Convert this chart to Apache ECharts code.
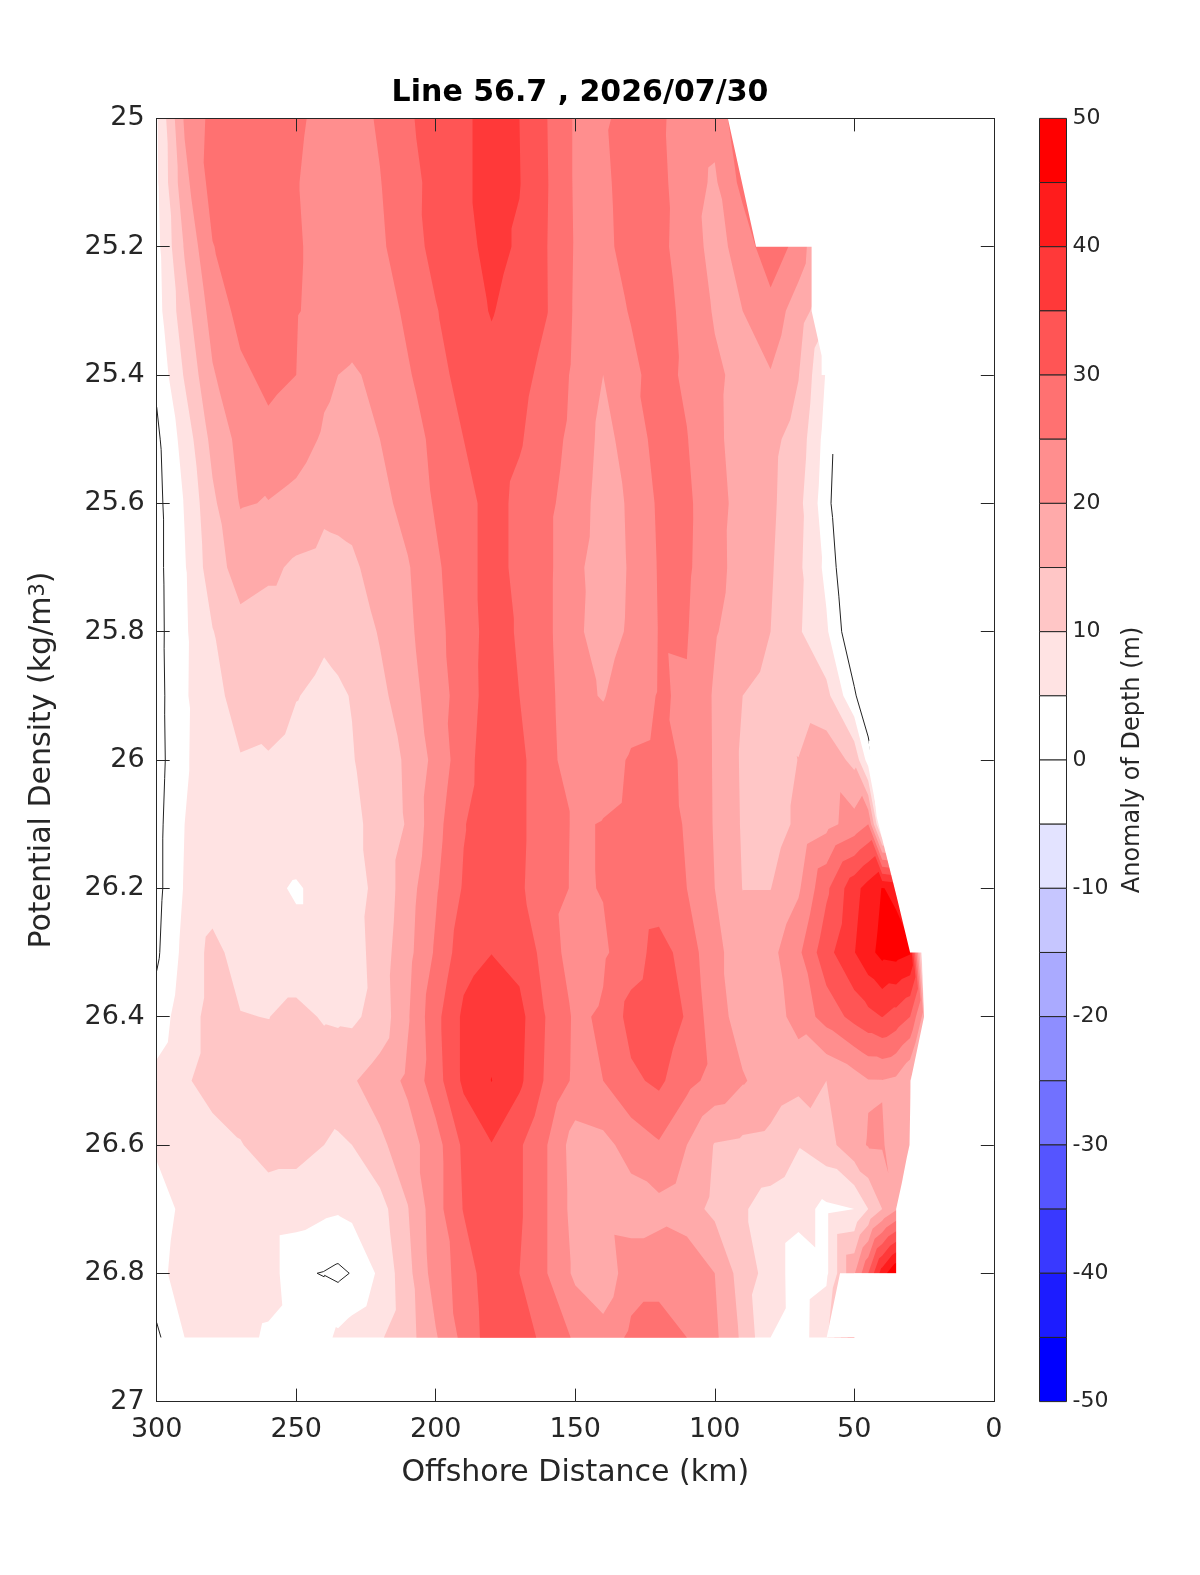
<!DOCTYPE html>
<html><head><meta charset="utf-8"><title>Line 56.7</title>
<style>html,body{margin:0;padding:0;background:#fff}#c{width:1200px;height:1575px}</style>
<script src="https://cdn.jsdelivr.net/npm/echarts@6/dist/echarts.min.js"></script>
</head><body><div id="c"></div>
<script>
// Offshore distance of each column (km)
const distances = [300,290,280,270,260,250,240,235,230,220,210,200,190,180,170,160,150,140,130,120,110,100,90,80,70,60,50,45,40,35,30,25,20];
// Potential density of each row (kg/m3)
const densities = [25.0,25.1,25.2,25.3,25.4,25.5,25.6,25.7,25.8,25.9,26.0,26.1,26.2,26.3,26.4,26.5,26.6,26.7,26.8,26.9];
const _ = null;
// Anomaly of depth (m), one row per density, one value per distance
const anomaly = [
[4.5,20.7,26.5,28,28,25.6,24,23.5,23,25.6,29.4,31.9,34.3,36.5,35,30,24.4,24.6,26,26,22.3,21.5,29,30,_,_,_,_,_,_,_,_,_],
[4.2,18.5,27,28.5,28.5,25.2,23.5,23.2,23,24.8,28.5,31.4,34.3,36.5,35.2,30.2,24.4,24.2,26.8,26.5,22,19.3,26.5,30,28,_,_,_,_,_,_,_,_],
[3.5,15.5,24.8,27.5,28,25.5,23.5,23,22.5,24.2,27.7,31.5,33.5,36.5,34.4,30,24.6,24,26.5,26.3,22.7,18.2,22,28.5,23,13,5,_,_,_,_,_,_],
[3,13,22,26.5,28,25.3,23.5,22.7,22,22.5,26,29.7,32.8,35.3,33,30.1,24.4,23,25.3,27,23.7,19.5,20,23,17.5,11.5,5,_,_,_,_,_,_],
[1,10.5,19.5,24,26.2,25,21,20,19.5,21,24.5,28,32,33.5,31.5,28.5,24,20,24,26.7,24.2,20.9,18.5,19.7,15.2,4.5,_,_,_,_,_,_,_],
[-1,7,16.5,21.5,23.7,22.3,19.3,18.6,18,20,23,26.1,30,32.5,30.5,27,23.5,18.5,22,27,25.2,21,18,16.3,13,3,_,_,_,_,_,_,_],
[-1.5,5.3,14,20.3,19.8,18.5,16,16.2,16.5,18.5,21.7,25.5,28,32,28.7,26,22.7,17.8,20.7,25.8,26,21.5,18.5,16,11.5,2,-10,_,_,_,_,_,_],
[-1.5,4.6,12.8,17,16,14.2,13.5,13.8,14.2,17,19.6,24.2,28,32,28.7,26,21.2,17.5,20.5,25.4,25.8,21.6,18,15.5,11,3.8,-7,_,_,_,_,_,_],
[-1.6,4.3,9.8,13.5,12.5,12.5,10.8,11.3,12,15.4,18.9,23.6,27.5,32,29.5,26,20.9,18,20.7,25.2,25.3,20.4,17.5,15,10.6,5.7,-4.7,-7,_,_,_,_,_],
[-1.8,4.4,8.8,11.5,13,10.2,8.8,9.4,10.2,13.8,17.7,22.7,27.3,32.3,30,26.5,21.2,19.7,22.8,25.3,24.6,19.4,15,13.5,12.8,11.5,0.8,-5,-8,_,_,_,_],
[-2,4.5,7.5,9.8,9.5,8,7.5,8.5,9.7,12.7,15.7,21.6,28,33,31,27,21.5,23,25.5,26,24.5,19.5,14.3,12.5,15.1,18,13.7,2.8,-7,-7,-7,_,_],
[-1.5,5,7.5,8.2,8.3,8,7.8,8.3,9,11.5,15.5,23.2,29.7,33.2,31,27,24.5,25.2,26,27,24.6,19.6,14.5,12.5,16,18.5,22,25,0,-5,-5,_,_],
[-1.5,5.4,7.5,7.5,6,4.5,6.5,7.2,8,11.5,17.8,24.4,30.5,33,30.7,27,24.4,25.2,26.5,27,25,20,14.9,14.9,19.3,29,38.3,42,45.2,44,40,0,_],
[-0.8,6.5,11.5,8,6.5,6.5,6.5,7,7.5,12.5,18.5,25.7,33,34.9,33.3,28,22,24.3,27.5,32,28,21,18,18.5,24,33.2,39.8,43.5,46.5,47,45.5,0,_],
[2,8,11.5,10.2,9.9,11.5,9.5,9.2,9,12,19.5,28.5,36,38.5,36.5,29.5,24.2,25.6,31.8,33.5,29.5,22,18,17.5,21.9,27,31.6,33.5,35.1,33,30,18,0],
[6.5,9.5,11.5,12,12.5,12.5,13,13.7,14.5,17.3,21,27.8,36,40.1,36,29,24,25,29,31,26.5,23.4,20.4,18,16.5,15,17.5,19.7,19.8,19,15,5,_],
[6,7,8.5,9.8,11.5,11.5,10,9,10,14,17.7,23,31,34.8,30.7,25,17.5,18.5,22,24.5,20,14.7,14,13.5,10.3,13,18.5,20.3,20.4,18,16,10,_],
[2,6.5,7.5,8,8,7.5,6,5.6,6.3,8,14.8,23,30.3,33,30.7,25,18,18,17.5,18.5,17,13.8,10.5,8,6.5,4,5,10,15,19.5,22,_,_],
[3,8,8.5,8.5,8,0.6,-0.2,-1,0.25,6,13.5,22.5,27,33.5,30,25,19,16.5,23,23,24,20,12.5,8,2.3,4,19.5,30,42.5,50,50,_,_],
[-0.9,5,7.5,7,4,2,3.5,6,7.5,9.5,13,19.5,26.5,32.5,33,28,24.4,22,26,27.5,25,21,14,5,2.5,9,30,_,_,_,_,_,_]
];
// Limit of the sampled section, [distance, density]
const sectionLimitUpper = [[95.3,25.0],[85.2,25.2],[65.3,25.2],[65.3,25.3],[61.7,25.37],[61.7,25.4],[0,25.4],[0,25.0]];
const sectionLimitLower = [[44.9,25.97],[42,26.088],[34.8,26.213],[30,26.3],[25.85,26.3],[25,26.4],[29.8,26.5],[30.2,26.6],[31.2,26.62],[33,26.66],[35,26.7],[35,26.8],[55.1,26.8],[59.9,26.9],[0,26.9],[0,25.97]];
// Contour levels and colours
const fillLevels = [5,10,15,20,25,30,35,40,45];
const fillColors = ['#ffe3e3','#ffc6c6','#ffaaaa','#ff8e8e','#ff7171','#ff5555','#ff3939','#ff1c1c','#ff0000'];
const barLow  = [45,40,35,30,25,20,15,10,5,0,-5,-10,-15,-20,-25,-30,-35,-40,-45,-50];
const barColors = ['#ff0000','#ff1c1c','#ff3939','#ff5555','#ff7171','#ff8e8e','#ffaaaa','#ffc6c6','#ffe3e3','#ffffff','#ffffff','#e3e3ff','#c6c6ff','#aaaaff','#8e8eff','#7171ff','#5555ff','#3939ff','#1c1cff','#0000ff'];

const FONT = 'DejaVu Sans', INK = '#262626';
const triangles = [];
for (let j = 0; j < densities.length - 1; j++) {
  for (let i = 0; i < distances.length - 1; i++) {
    const p = (ii, jj) => [distances[ii], densities[jj], anomaly[jj][ii]];
    const a = p(i,j), b = p(i+1,j), c = p(i+1,j+1), d = p(i,j+1);
    [[a,b,c],[a,c,d]].forEach(t => { if (t.every(q => q[2] !== null)) triangles.push(t); });
  }
}
function at(p, q, L) {
  const t = (L - p[2]) / (q[2] - p[2]);
  return [p[0] + (q[0]-p[0])*t, p[1] + (q[1]-p[1])*t, L];
}
function clipAbove(tri, L) {
  const out = [];
  for (let k = 0; k < tri.length; k++) {
    const p = tri[k], q = tri[(k+1) % tri.length];
    const pin = p[2] >= L, qin = q[2] >= L;
    if (pin) out.push(p);
    if (pin !== qin) out.push(at(p, q, L));
  }
  return out;
}
function zeroSegment(tri) {
  const pts = [];
  for (let k = 0; k < 3; k++) {
    const p = tri[k], q = tri[(k+1) % 3];
    if ((p[2] >= 0) !== (q[2] >= 0)) pts.push(at(p, q, 0));
  }
  return pts.length === 2 ? pts : null;
}
const polyPath = (api, pts) => pts.map((q, n) => {
  const c = api.coord([q[0], q[1]]);
  return (n ? 'L' : 'M') + c[0].toFixed(2) + ' ' + c[1].toFixed(2);
}).join(' ') + ' Z';

const fillSeries = {
  type: 'custom', coordinateSystem: 'cartesian2d', xAxisIndex: 0, yAxisIndex: 0, silent: true, animation: false, clip: true, z: 2,
  data: fillLevels.map(L => [150, 26, L]),
  renderItem(params, api) {
    const i = params.dataIndex, L = fillLevels[i];
    let d = '';
    triangles.forEach(t => { const c = clipAbove(t, L); if (c.length > 2) d += polyPath(api, c) + ' '; });
    return { type: 'path', shape: { pathData: d }, style: { fill: fillColors[i], stroke: null } };
  }
};
const zeroSeries = {
  type: 'custom', coordinateSystem: 'cartesian2d', xAxisIndex: 0, yAxisIndex: 0, silent: true, animation: false, clip: true, z: 3,
  data: [[150, 26, 0]],
  renderItem(params, api) {
    let d = '';
    triangles.forEach(t => {
      const s = zeroSegment(t);
      if (s) {
        const a = api.coord([s[0][0], s[0][1]]), b = api.coord([s[1][0], s[1][1]]);
        d += 'M' + a[0].toFixed(2) + ' ' + a[1].toFixed(2) + ' L' + b[0].toFixed(2) + ' ' + b[1].toFixed(2) + ' ';
      }
    });
    return { type: 'path', shape: { pathData: d }, style: { fill: null, stroke: '#222', lineWidth: 1 } };
  }
};
const limits = [sectionLimitUpper, sectionLimitLower];
const limitSeries = {
  type: 'custom', coordinateSystem: 'cartesian2d', xAxisIndex: 0, yAxisIndex: 0, silent: true, animation: false, clip: true, z: 4,
  data: limits.map((_l, i) => [150, 26, i]),
  renderItem(params, api) {
    return { type: 'path', shape: { pathData: polyPath(api, limits[params.dataIndex]) }, style: { fill: '#fff', stroke: null } };
  }
};
const barSeries = {
  type: 'custom', coordinateSystem: 'cartesian2d', xAxisIndex: 2, yAxisIndex: 2, silent: true, animation: false, clip: false, z: 2,
  data: barLow.map(v => [0.5, v + 2.5]),
  renderItem(params, api) {
    const lo = barLow[params.dataIndex];
    const a = api.coord([0, lo + 5]), b = api.coord([1, lo]);
    return { type: 'rect', shape: { x: a[0], y: a[1], width: b[0]-a[0], height: b[1]-a[1] },
      style: { fill: barColors[params.dataIndex], stroke: INK, lineWidth: 1 } };
  }
};
const frameAxis = {
  z: 10, axisLine: { show: true, onZero: false, lineStyle: { color: INK, width: 1 } },
  axisTick: { show: true, inside: true, length: 13, lineStyle: { color: INK, width: 1 } },
  splitLine: { show: false }, minorTick: { show: false }
};
const tickLabel = { color: INK, fontFamily: FONT, fontSize: 27 };
const option = {
  backgroundColor: '#fff', animation: false, textStyle: { fontFamily: FONT },
  title: { text: 'Line 56.7 , 2026/07/30', left: 575, top: 73, textAlign: 'center',
    textStyle: { color: '#000', fontFamily: FONT, fontWeight: 'bold', fontSize: 30 } },
  grid: [
    { left: 156.7, top: 118.4, width: 837.1, height: 1283.2 },
    { left: 1039.5, top: 118.4, width: 27, height: 1283.2 }
  ],
  xAxis: [
    Object.assign({}, frameAxis, { gridIndex: 0, type: 'value', position: 'bottom', min: 0, max: 300, interval: 50, inverse: true,
      axisLabel: Object.assign({ margin: 15 }, tickLabel), name: 'Offshore Distance (km)', nameLocation: 'middle', nameGap: 57,
      nameTextStyle: { color: INK, fontFamily: FONT, fontSize: 30 } }),
    Object.assign({}, frameAxis, { gridIndex: 0, type: 'value', position: 'top', min: 0, max: 300, interval: 50, inverse: true, axisLabel: { show: false } }),
    { gridIndex: 1, type: 'value', min: 0, max: 1, show: false }
  ],
  yAxis: [
    Object.assign({}, frameAxis, { gridIndex: 0, type: 'value', position: 'left', min: 25, max: 27, interval: 0.2, inverse: true,
      axisLabel: Object.assign({ margin: 12 }, tickLabel), name: 'Potential Density (kg/m{sup|3})', nameLocation: 'middle', nameGap: 99,
      nameTextStyle: { color: INK, fontFamily: FONT, fontSize: 30, rich: { sup: { fontFamily: FONT, fontSize: 21, color: INK, verticalAlign: 'top', lineHeight: 30 } } } }),
    Object.assign({}, frameAxis, { gridIndex: 0, type: 'value', position: 'right', min: 25, max: 27, interval: 0.2, inverse: true, axisLabel: { show: false } }),
    { gridIndex: 1, type: 'value', position: 'right', min: -50, max: 50, interval: 10, z: 10,
      axisLine: { show: false }, axisTick: { show: false }, splitLine: { show: false },
      axisLabel: { color: INK, fontFamily: FONT, fontSize: 22, margin: 6 },
      name: 'Anomaly of Depth (m)', nameLocation: 'middle', nameRotate: 90, nameGap: 54,
      nameTextStyle: { color: INK, fontFamily: FONT, fontSize: 24 } }
  ],
  series: [fillSeries, zeroSeries, limitSeries, barSeries]
};
echarts.init(document.getElementById('c'), null, { renderer: 'canvas' }).setOption(option);
</script></body></html>
